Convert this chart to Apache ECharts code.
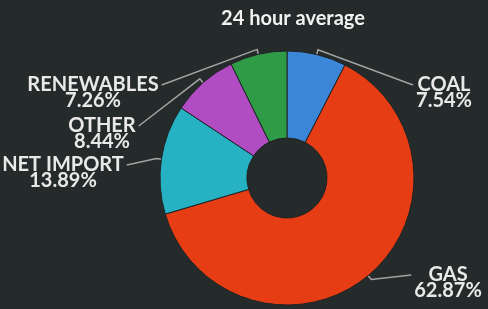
<!DOCTYPE html>
<html>
<head>
<meta charset="utf-8">
<script src="https://cdn.jsdelivr.net/npm/echarts@6/dist/echarts.min.js"></script>
<style>
  html, body { margin: 0; padding: 0; background: #252a2b; }
  #chart { width: 488px; height: 309px; }
</style>
</head>
<body>
<div id="chart"></div>
<script>
const sources = ["COAL", "GAS", "NET IMPORT", "OTHER", "RENEWABLES"];
const shares = [7.54, 62.87, 13.89, 8.44, 7.26];
const sliceColors = ["#3b86d6", "#e63d14", "#27b2c4", "#b24cc3", "#2f9b47"];

// label block placement: centre x, top y, and the side the guide line meets
const labelSpots = {
  "COAL": { x: 444, y: 77, side: "left" },
  "GAS": { x: 448, y: 267, side: "left" },
  "NET IMPORT": { x: 63, y: 157, side: "right" },
  "OTHER": { x: 102, y: 118, side: "right" },
  "RENEWABLES": { x: 93, y: 77, side: "right" }
};

const chart = echarts.init(document.getElementById("chart"));

chart.setOption({
  backgroundColor: "#252a2b",
  animation: false,
  title: {
    text: "24 hour average",
    left: 288,
    top: 4,
    textAlign: "center",
    textStyle: {
      color: "#f2f2f2",
      fontFamily: "Lato",
      fontWeight: "bold",
      fontSize: 20
    }
  },
  series: [
    {
      type: "pie",
      center: [287, 178],
      radius: [40, 127],
      startAngle: 90,
      clockwise: true,
      avoidLabelOverlap: false,
      emphasis: { disabled: true },
      itemStyle: { borderColor: "#1f2324", borderWidth: 1 },
      label: {
        show: true,
        position: "outside",
        color: "#e9e9e9",
        fontFamily: "Lato",
        fontWeight: "bold",
        fontSize: 20,
        lineHeight: 16,
        formatter: (p) => p.name + "\n" + p.value.toFixed(2) + "%"
      },
      labelLine: {
        show: true,
        length: 5,
        length2: 10,
        lineStyle: { color: "#a3a3a3", width: 1.5 }
      },
      labelLayout: (params) => {
        const spot = labelSpots[params.text.split("\n")[0]];
        if (!spot) return {};
        const pts = params.labelLinePoints;
        const half = params.labelRect.width / 2;
        const endX = spot.side === "left" ? spot.x - half - 3 : spot.x + half + 3;
        return {
          x: spot.x,
          y: spot.y,
          align: "center",
          verticalAlign: "top",
          labelLinePoints: [pts[0], pts[1], [endX, spot.y + 8]]
        };
      },
      data: sources.map((name, i) => ({
        name: name,
        value: shares[i],
        itemStyle: { color: sliceColors[i] }
      }))
    }
  ]
});
</script>
</body>
</html>
